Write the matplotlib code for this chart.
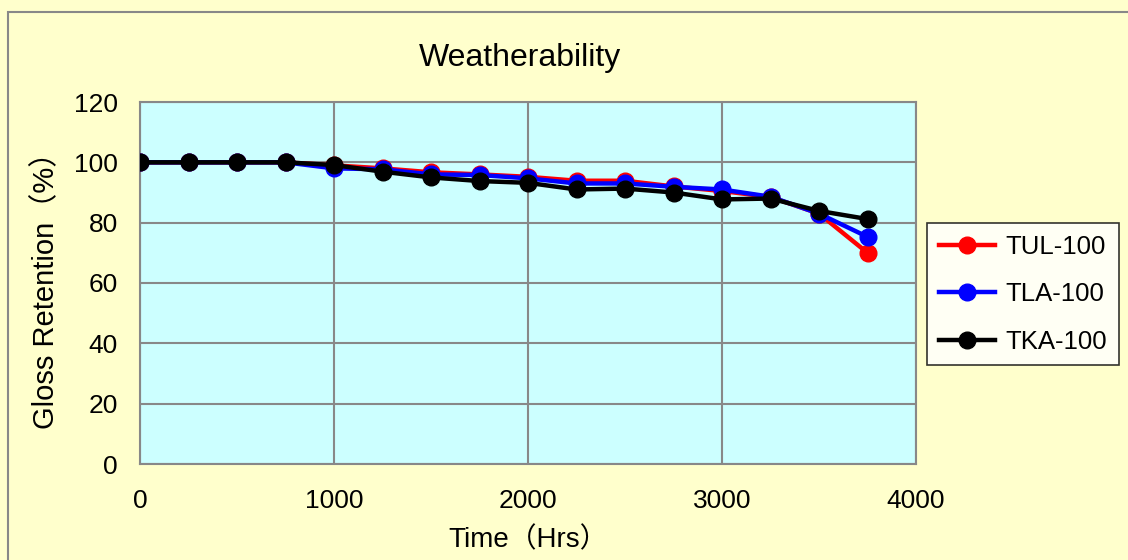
import matplotlib.pyplot as plt
from matplotlib.patches import Rectangle

# data
hours = [0, 250, 500, 750, 1000, 1250, 1500, 1750, 2000, 2250, 2500, 2750, 3000, 3250, 3500, 3750]
tul = [100, 100, 100, 100, 99, 98, 96.7, 96, 95.2, 93.9, 93.9, 92, 90.5, 88.5, 83, 70]
tla = [100, 100, 100, 100, 98, 97.7, 96, 95.8, 94.7, 93, 93, 91.9, 91, 88.6, 83, 75.3]
tka = [100, 100, 100, 100, 99.1, 96.9, 95, 93.8, 93.2, 91, 91.3, 90, 87.7, 88, 83.9, 81.2]

series = [("TUL-100", tul, "#ff0000"), ("TLA-100", tla, "#0000ff"), ("TKA-100", tka, "#000000")]

plt.rcParams['font.family'] = ['Liberation Sans', 'Noto Sans CJK JP']

fig = plt.figure(figsize=(11.28, 5.6), dpi=100)
fig.patch.set_facecolor('#ffffcc')
W, H = 1128, 560

# outer chart border
fig.patches.append(Rectangle((8 / W, -0.01), 1.1, 1 - 12 / H + 0.01, transform=fig.transFigure,
                             fill=False, edgecolor='#888888', linewidth=1.5))

ax = fig.add_axes([140 / W, 1 - 464 / H, (916 - 140) / W, (464 - 102) / H])
ax.set_facecolor('#ccffff')

for name, vals, col in series:
    ax.plot(hours, vals, color=col, lw=3.2, marker='o', ms=12, label=name, zorder=3)

ax.set_xlim(0, 4000)
ax.set_ylim(0, 120)
ax.set_xticks([0, 1000, 2000, 3000, 4000])
ax.set_yticks(range(0, 121, 20))
ax.grid(True, color='#888888', lw=1.5)
ax.set_axisbelow(True)
ax.tick_params(length=0, labelsize=19)
ax.tick_params(axis='y', pad=16)
ax.tick_params(axis='x', pad=18)
for s in ax.spines.values():
    s.set_color('#888888')
    s.set_linewidth(1.5)

ax.set_xlabel('Time（Hrs）', fontsize=20, labelpad=10)
ax.set_ylabel('Gloss Retention（%）', fontsize=21, labelpad=10)
fig.text(520 / W, 1 - 58 / H, 'Weatherability', ha='center', va='center', fontsize=23)

leg = ax.legend(loc='upper left', bbox_to_anchor=(927 / W, 1 - 223 / H), bbox_transform=fig.transFigure,
                borderaxespad=0, fontsize=18.5, frameon=True, fancybox=False, edgecolor='black',
                facecolor='white', handlelength=2.2, labelspacing=0.92, borderpad=0.45, handletextpad=0.4)
leg.get_frame().set_linewidth(1.2)

fig.savefig('out.png', dpi=100, facecolor=fig.get_facecolor())
